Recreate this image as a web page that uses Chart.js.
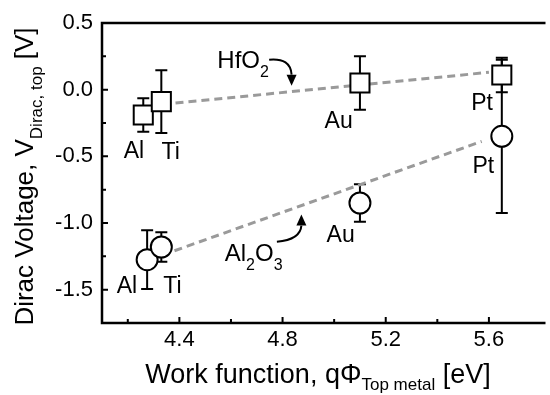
<!DOCTYPE html>
<html><head><meta charset="utf-8">
<script src="https://cdn.jsdelivr.net/npm/chart.js@4"></script>
<style>html,body{margin:0;padding:0;background:#fff;overflow:hidden}canvas{display:block}</style>
</head><body>
<canvas id="c" width="556" height="395"></canvas>
<script>
// ---- data ----
const metals = ['Al', 'Ti', 'Au', 'Pt'];
const hfo2X = [4.26, 4.33, 5.10, 5.65];
const hfo2V = [-0.19, -0.09, 0.05, 0.11];
const hfo2Err = [0.125, 0.235, 0.20, 0.13];
const al2o3X = [4.275, 4.33, 5.10, 5.65];
const al2o3V = [-1.275, -1.18, -0.85, -0.35];
const al2o3Err = [0.22, 0.11, 0.14, 0.575];
const hfo2FitX = [4.385, 5.60];
const hfo2FitV = [-0.100, 0.130];
const al2o3FitX = [4.381, 5.572];
const al2o3FitV = [-1.208, -0.388];
const xTicks = [4.4, 4.8, 5.2, 5.6];
const yTicks = [0.5, 0.0, -0.5, -1.0, -1.5];
const xMinor = [4.2, 4.6, 5.0, 5.4];
const yMinor = [0.25, -0.25, -0.75, -1.25];

// ---- styling / text placement ----
const FONT = "'Liberation Sans', Arial, sans-serif";
const hfo2LabelOff = [[-19.6, 42.7], [0.2, 57], [-35.4, 44.7], [-30.6, 34.7]];
const al2o3LabelOff = [[-30.5, 33], [1.9, 45.7], [-33.4, 38.7], [-29.3, 36.4]];
const annotations = [
  {segs: [['HfO', 0], ['2', 1]], x: 4.547, y: 0.165,
   arrow: {sx: 4.748, sy: 0.225, cx: 4.831, cy: 0.240, tx: 4.835, ty: 0.030, dir: 1}},
  {segs: [['Al', 0], ['2', 1], ['O', 0], ['3', 1]], x: 4.576, y: -1.288,
   arrow: {sx: 4.778, sy: -1.140, cx: 4.869, cy: -1.125, tx: 4.873, ty: -0.937, dir: -1}}
];

function pts(xs, vs) { return xs.map((v, i) => ({x: v, y: vs[i]})); }

function drawSegs(ctx, segs, x, y) {
  let cx = x;
  for (const s of segs) {
    ctx.font = s[1] + 'px ' + FONT;
    ctx.fillText(s[0], cx, y + s[2]);
    cx += ctx.measureText(s[0]).width;
  }
  return cx - x;
}
function segsWidth(ctx, segs) {
  let w = 0;
  for (const s of segs) { ctx.font = s[1] + 'px ' + FONT; w += ctx.measureText(s[0]).width; }
  return w;
}

const deco = {
  id: 'deco',
  beforeDatasetsDraw(chart) {
    const {ctx, scales: {x, y}} = chart;
    ctx.save();
    ctx.strokeStyle = '#000';
    ctx.lineWidth = 2;
    const cap = 6;
    const eb = (xs, vs, es) => {
      for (let i = 0; i < xs.length; i++) {
        const px = x.getPixelForValue(xs[i]);
        const t = y.getPixelForValue(vs[i] + es[i]);
        const b = y.getPixelForValue(vs[i] - es[i]);
        ctx.beginPath();
        ctx.moveTo(px, t); ctx.lineTo(px, b);
        ctx.moveTo(px - cap, t); ctx.lineTo(px + cap, t);
        ctx.moveTo(px - cap, b); ctx.lineTo(px + cap, b);
        ctx.stroke();
      }
    };
    eb(al2o3X, al2o3V, al2o3Err);
    eb(hfo2X, hfo2V, hfo2Err);
    ctx.restore();
  },
  afterDraw(chart) {
    const {ctx, chartArea: a, scales: {x, y}} = chart;
    ctx.save();
    // frame
    ctx.strokeStyle = '#000';
    ctx.lineWidth = 2.5;
    ctx.beginPath();
    ctx.moveTo(a.right + 5, a.top); ctx.lineTo(a.left, a.top);
    ctx.lineTo(a.left, a.bottom); ctx.lineTo(a.right + 5, a.bottom);
    ctx.stroke();
    // inward ticks
    ctx.lineWidth = 2;
    ctx.beginPath();
    xTicks.forEach(v => { const p = x.getPixelForValue(v); ctx.moveTo(p, a.bottom); ctx.lineTo(p, a.bottom - 6); });
    xMinor.forEach(v => { const p = x.getPixelForValue(v); ctx.moveTo(p, a.bottom); ctx.lineTo(p, a.bottom - 4); });
    yTicks.forEach(v => { const p = y.getPixelForValue(v); ctx.moveTo(a.left, p); ctx.lineTo(a.left + 6, p); });
    yMinor.forEach(v => { const p = y.getPixelForValue(v); ctx.moveTo(a.left, p); ctx.lineTo(a.left + 4, p); });
    ctx.stroke();

    ctx.fillStyle = '#000';
    ctx.textAlign = 'left';
    ctx.textBaseline = 'alphabetic';
    // point labels
    ctx.font = '23px ' + FONT;
    metals.forEach((m, i) => {
      const px = x.getPixelForValue(hfo2X[i]), py = y.getPixelForValue(hfo2V[i]);
      ctx.fillText(m, px + hfo2LabelOff[i][0], py + hfo2LabelOff[i][1]);
      const qx = x.getPixelForValue(al2o3X[i]), qy = y.getPixelForValue(al2o3V[i]);
      ctx.fillText(m, qx + al2o3LabelOff[i][0], qy + al2o3LabelOff[i][1]);
    });
    // annotations with arrows
    annotations.forEach(an => {
      const segs = an.segs.map(s => s[1] ? [s[0], 16, 9] : [s[0], 24, 0]);
      drawSegs(ctx, segs, x.getPixelForValue(an.x), y.getPixelForValue(an.y));
      const ar = an.arrow;
      const sx = x.getPixelForValue(ar.sx), sy = y.getPixelForValue(ar.sy);
      const cx = x.getPixelForValue(ar.cx), cy = y.getPixelForValue(ar.cy);
      const tx = x.getPixelForValue(ar.tx), ty = y.getPixelForValue(ar.ty);
      const hl = 11, hw = 5;
      const by = ty - ar.dir * hl;
      ctx.lineWidth = 2;
      ctx.beginPath();
      ctx.moveTo(sx, sy); ctx.quadraticCurveTo(cx, cy, tx, by);
      ctx.stroke();
      ctx.beginPath();
      ctx.moveTo(tx, ty); ctx.lineTo(tx - hw, by); ctx.lineTo(tx + hw, by); ctx.closePath();
      ctx.fill();
    });
    // axis titles
    const xt = [['Work function, q\u03A6', 27, 0], ['Top metal', 17, 7], [' [eV]', 27, 0]];
    const xw = segsWidth(ctx, xt);
    drawSegs(ctx, xt, 318 - xw / 2, 383);
    const yt = [['Dirac Voltage, V', 26, 0], ['Dirac, top', 17, 9], [' [V]', 26, 0]];
    const yw = segsWidth(ctx, yt);
    ctx.translate(33, 176.5);
    ctx.rotate(-Math.PI / 2);
    drawSegs(ctx, yt, -yw / 2, 0);
    ctx.restore();
  }
};

new Chart(document.getElementById('c'), {
  type: 'scatter',
  data: {
    datasets: [
      {data: pts(hfo2X, hfo2V), pointStyle: 'rect', pointRadius: 13.5, pointHoverRadius: 13.5,
       borderColor: '#000', backgroundColor: '#fff', borderWidth: 2, pointBorderWidth: 2},
      {data: pts(al2o3X, al2o3V), pointStyle: 'circle', pointRadius: 10.5, pointHoverRadius: 10.5,
       borderColor: '#000', backgroundColor: '#fff', borderWidth: 2, pointBorderWidth: 2},
      {type: 'line', data: pts(hfo2FitX, hfo2FitV), showLine: true, borderDash: [8, 5],
       borderColor: '#9a9a9a', borderWidth: 3, pointRadius: 0, fill: false},
      {type: 'line', data: pts(al2o3FitX, al2o3FitV), showLine: true, borderDash: [8, 5],
       borderColor: '#9a9a9a', borderWidth: 3, pointRadius: 0, fill: false}
    ]
  },
  options: {
    responsive: false, animation: false, devicePixelRatio: 1, events: [],
    layout: {padding: {top: 23, right: 3, left: 0, bottom: 0}},
    plugins: {legend: {display: false}, tooltip: {enabled: false}},
    scales: {
      x: {
        type: 'linear', min: 4.1, max: 5.8,
        afterBuildTicks: s => { s.ticks = xTicks.map(v => ({value: v})); },
        afterFit: s => { s.height = 72; },
        grid: {display: false, drawTicks: false}, border: {display: false},
        ticks: {color: '#000', font: {family: FONT, size: 22}, padding: 4, maxRotation: 0, autoSkip: false,
                callback: v => Number(v).toFixed(1)}
      },
      y: {
        type: 'linear', min: -1.75, max: 0.5,
        afterBuildTicks: s => { s.ticks = yTicks.map(v => ({value: v})); },
        afterFit: s => { s.width = 102; },
        grid: {display: false, drawTicks: false}, border: {display: false},
        ticks: {color: '#000', font: {family: FONT, size: 22}, padding: 9, autoSkip: false,
                callback: v => Number(v).toFixed(1)}
      }
    }
  },
  plugins: [deco]
});
</script>
</body></html>
